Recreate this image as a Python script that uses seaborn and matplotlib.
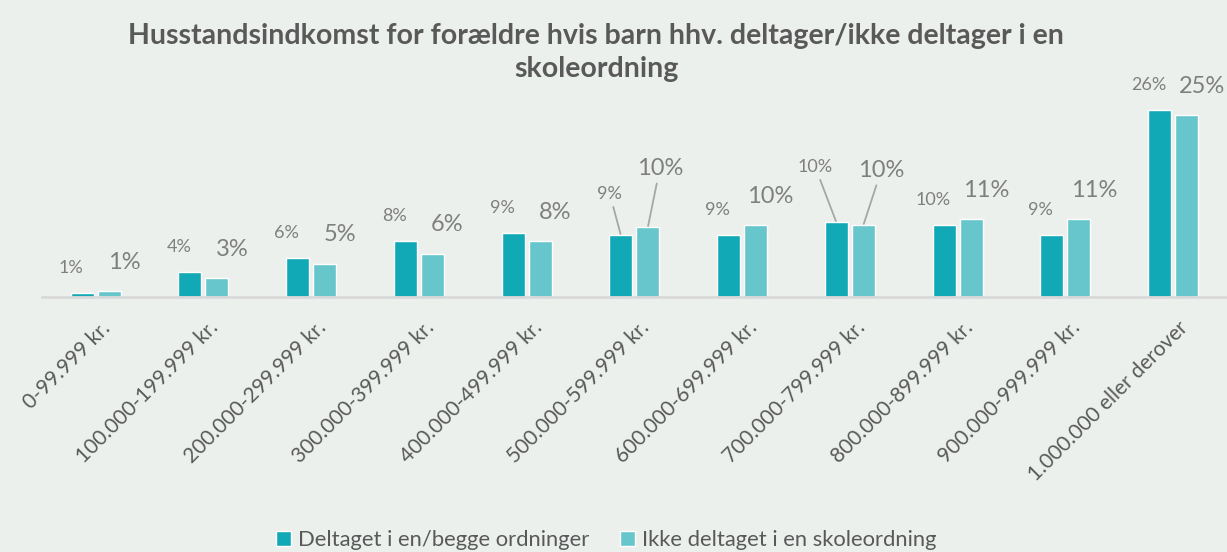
import matplotlib as mpl
mpl.use('Agg')
import matplotlib.pyplot as plt
import matplotlib.transforms as mtransforms
import seaborn as sns
import pandas as pd

# data
categories = ["0-99.999 kr.", "100.000-199.999 kr.", "200.000-299.999 kr.",
              "300.000-399.999 kr.", "400.000-499.999 kr.", "500.000-599.999 kr.",
              "600.000-699.999 kr.", "700.000-799.999 kr.", "800.000-899.999 kr.",
              "900.000-999.999 kr.", "1.000.000 eller derover"]
deltaget = [0.006, 0.035, 0.055, 0.078, 0.089, 0.086, 0.086, 0.104, 0.100, 0.086, 0.260]
ikke_deltaget = [0.008, 0.026, 0.046, 0.060, 0.078, 0.097, 0.100, 0.100, 0.108, 0.108, 0.253]
series = ["Deltaget i en/begge ordninger", "Ikke deltaget i en skoleordning"]

BG = "#ECF0ED"
COLORS = ["#11A9B6", "#67C6CC"]
GREY_TXT = "#595959"
LABEL_TXT = "#7F7F7F"

sns.set_theme(style="white")
plt.rcParams['font.family'] = ['Lato', 'DejaVu Sans']

df = pd.DataFrame({
    "Indkomst": categories * 2,
    "Andel": deltaget + ikke_deltaget,
    "Gruppe": [series[0]] * len(categories) + [series[1]] * len(categories),
})

fig = plt.figure(figsize=(12.27, 5.52), dpi=100, facecolor=BG)
ax = fig.add_axes([0.034, 0.462, 0.966, 0.39])
ax.set_facecolor(BG)

sns.barplot(data=df, x="Indkomst", y="Andel", hue="Gruppe", order=categories,
            hue_order=series, palette=COLORS, width=0.5, gap=0.15,
            saturation=1, ax=ax, legend=True)

ax.set_ylim(0, 0.30)
ax.set_xlim(-0.5, len(categories) - 0.5)
ax.set_xlabel("")
ax.set_ylabel("")
ax.set_yticks([])
for s in ["top", "right", "left"]:
    ax.spines[s].set_visible(False)
ax.spines["bottom"].set_color("#D9D9D9")
ax.spines["bottom"].set_linewidth(2)
ax.tick_params(axis="x", length=0, pad=15)
ax.set_xticks(range(len(categories)))
ax.set_xticklabels(categories, rotation=45, ha="right", rotation_mode="anchor",
                   fontsize=15, color=GREY_TXT)
shift = mtransforms.ScaledTranslation(5 / 100, 0, fig.dpi_scale_trans)
for lbl in ax.get_xticklabels():
    lbl.set_transform(lbl.get_transform() + shift)

# data labels: default offsets (px) and a few shifted ones with leader lines
px = 72 / 100
special = {
    (0, 5): (-11, 41), (1, 5): (12, 59),
    (0, 7): (-21, 55), (1, 7): (18, 55),
}
for h, (container, vals) in enumerate(zip(ax.containers, [deltaget, ikke_deltaget])):
    for i, (bar, v) in enumerate(zip(container, vals)):
        x = bar.get_x() + bar.get_width() / 2
        y = bar.get_height()
        dx, dy = (-11, 25) if h == 0 else (15, 29)
        arrow = None
        if (h, i) in special:
            dx, dy = special[(h, i)]
            arrow = dict(arrowstyle="-", color="#A6A6A6", lw=1.3,
                         shrinkA=1, shrinkB=1)
        ax.annotate(f"{v:.0%}", (x, y), xytext=(dx * px, dy * px),
                    textcoords="offset points", ha="center", va="center",
                    fontsize=13 if h == 0 else 17, color=LABEL_TXT,
                    annotation_clip=False, arrowprops=arrow)

leg = ax.legend(loc="center", bbox_to_anchor=(0.476, -1.13), ncol=2, frameon=False,
                fontsize=15.8, handlelength=0.7, handleheight=0.7,
                handletextpad=0.3, columnspacing=1.4)
for t in leg.get_texts():
    t.set_color(GREY_TXT)

fig.text(0.486, 0.905, "Husstandsindkomst for forældre hvis barn hhv. deltager/ikke deltager i en\nskoleordning",
         ha="center", va="center", fontsize=20.5, fontweight="bold",
         color=GREY_TXT, linespacing=1.35)

fig.savefig("out.png", dpi=100, facecolor=BG)
